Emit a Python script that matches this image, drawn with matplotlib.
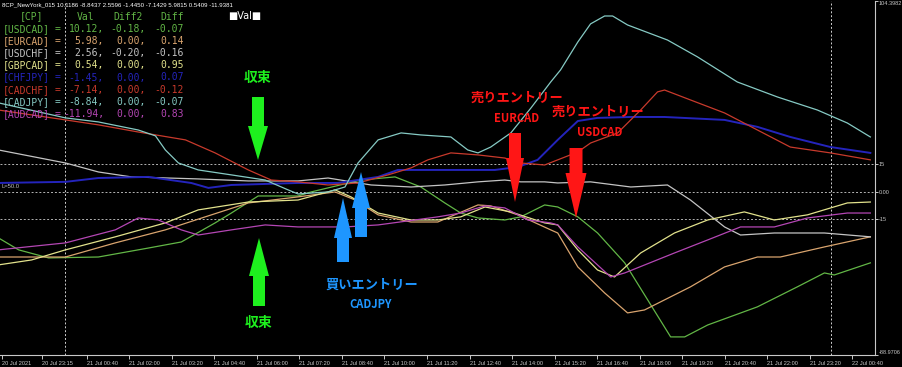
import matplotlib
matplotlib.use('Agg')
import matplotlib.pyplot as plt
import matplotlib.transforms as mtransforms
from matplotlib.patches import Polygon

# time axis: hours from 21 Jul 00:00, values of the strength index per pair
cadjpy_t = [-2.1, 0, 1.03, 2.28, 2.82, 3.13, 3.54, 4.16, 5.2, 6.26, 6.98, 7.29, 8.23, 8.76, 9.17, 9.8,
            10.52, 11.14, 12.08, 12.61, 12.93, 13.33, 13.96, 14.59, 15.21, 15.52, 16.06, 16.46, 16.9,
            17.15, 17.62, 18.87, 19.81, 21.06, 22.32, 23.57, 24.51, 25.23]
cadjpy_v = [48.6, 40.4, 38.2, 33.8, 30.6, 22.9, 15.8, 12.0, 9.3, 6.5, 1.1, -1.1, 0, 2.7, 15.8, 28.4,
            32.2, 31.1, 30.0, 22.9, 21.3, 24.5, 32.2, 45.8, 60.0, 66.6, 81.8, 91.7, 96.0,
            96.0, 91.1, 82.9, 73.7, 60.0, 51.8, 44.7, 37.6, 30.0]

cadchf_t = [-2.1, 0, 1.03, 2.28, 3.76, 4.69, 5.73, 6.45, 7.29, 8.23, 9.17, 10.11, 10.83, 11.36, 12.08,
            12.93, 13.77, 14.27, 15.02, 15.43, 16.06, 16.46, 17.31, 18.03, 18.56, 18.78, 19.59, 20.66,
            21.69, 22.72, 23.98, 25.23]
cadchf_v = [44.7, 39.3, 36.6, 32.7, 28.4, 21.3, 12.0, 6.5, 5.5, 3.8, 4.9, 9.3, 13.1, 17.5, 21.3,
            20.2, 18.5, 15.8, 14.7, 17.5, 21.8, 26.7, 32.2, 44.7, 54.6, 55.6, 50.2, 43.1,
            33.8, 24.5, 21.3, 17.5]

chfjpy_t = [-2.1, 0, 1.03, 2.6, 3.94, 4.48, 5.2, 7.29, 8.54, 9.8, 10.42, 11.89, 13.46, 14.18, 14.8,
            15.43, 16.06, 16.68, 17.72, 18.78, 20.66, 21.69, 22.72, 23.98, 25.23]
chfjpy_v = [4.9, 5.5, 7.6, 8.2, 4.9, 2.2, 3.8, 4.9, 4.9, 8.2, 12.0, 12.0, 12.0, 13.6, 17.5,
            28.4, 38.7, 40.4, 40.9, 40.9, 39.3, 35.5, 30.0, 24.5, 21.3]

usdchf_t = [-2.1, 0, 1.03, 2.07, 4.16, 5.73, 7.29, 8.23, 9.58, 10.83, 11.89, 12.93, 13.77, 14.27,
            15.02, 15.43, 16.46, 17.72, 18.87, 19.59, 20.66, 21.16, 22.22, 23.79, 25.23]
usdchf_v = [22.9, 15.8, 10.9, 8.2, 7.1, 6.0, 6.0, 7.6, 3.8, 2.7, 3.8, 5.5, 6.5, 5.5,
            5.5, 4.9, 5.5, 2.7, 3.8, -4.4, -19.1, -23.5, -22.4, -22.4, -24.5]

usdcad_t = [-2.1, -1.47, -0.53, 1.03, 2.6, 3.63, 4.69, 5.2, 6.04, 7.29, 7.7, 9.26, 10.33, 11.14,
            11.89, 12.39, 12.93, 13.77, 14.27, 15.02, 15.43, 16.06, 16.68, 17.53, 18.25, 18.97,
            19.41, 20.13, 21.69, 22.94, 23.79, 24.1, 25.23]
usdcad_v = [-25.1, -31.6, -36.0, -35.5, -30.6, -27.3, -16.9, -11.5, -2.2, -2.2, 0, 6.5, 8.2, 2.7,
            -6.0, -11.5, -14.2, -15.3, -13.6, -7.1, -8.2, -13.6, -22.4, -38.7, -58.9, -79.1,
            -79.1, -72.6, -62.7, -51.8, -44.2, -45.3, -38.7]

gbpcad_t = [-2.1, -1.06, 0, 1.56, 3.13, 4.16, 5.73, 7.29, 8.45, 8.95, 9.8, 10.83, 11.67, 12.39,
            13.15, 13.96, 15.02, 15.43, 16.06, 16.68, 17.21, 18.03, 19.09, 20.13, 21.28, 22.22,
            23.26, 24.51, 25.23]
gbpcad_v = [-39.8, -37.1, -31.6, -24.5, -16.9, -9.8, -5.5, -4.4, 1.1, -2.7, -11.5, -15.3, -15.3, -13.6,
            -8.2, -10.9, -16.9, -18.0, -31.6, -42.6, -46.4, -33.3, -22.4, -15.3, -10.9, -15.3,
            -12.5, -6.0, -5.5]

audcad_t = [-2.1, 0, 1.56, 2.28, 2.91, 3.63, 4.16, 5.2, 6.26, 7.29, 8.76, 9.8, 11.67, 12.39, 13.15,
            13.77, 14.49, 15.21, 15.43, 16.06, 17.09, 17.53, 19.09, 20.13, 21.16, 22.22, 23.26,
            24.51, 25.23]
audcad_v = [-31.6, -27.8, -20.7, -14.2, -15.3, -20.7, -23.5, -20.7, -18.0, -19.1, -19.1, -18.0, -13.6,
            -11.5, -7.6, -8.7, -15.3, -16.9, -18.0, -30.0, -46.4, -44.2, -33.3, -26.2, -19.1,
            -19.1, -14.2, -11.5, -11.5]

eurcad_t = [-2.1, 0, 1.56, 3.13, 4.38, 5.73, 7.29, 8.45, 9.08, 9.8, 10.83, 11.67, 12.93, 13.33,
            14.18, 15.21, 15.43, 16.06, 16.9, 17.62, 18.15, 19.59, 20.66, 21.69, 22.41, 23.79, 25.23]
eurcad_v = [-35.5, -35.5, -27.8, -20.7, -13.6, -6.0, -2.7, 0, -4.4, -12.5, -16.4, -16.4, -7.1, -7.6,
            -12.5, -20.7, -22.4, -40.9, -55.1, -66.0, -64.4, -51.8, -40.9, -35.5, -35.5, -30.0, -24.5]

# table in the top left corner
pairs = ['USDCAD', 'EURCAD', 'USDCHF', 'GBPCAD', 'CHFJPY', 'CADCHF', 'CADJPY', 'AUDCAD']
val_col = ['10.12,', '5.98,', '2.56,', '0.54,', '-1.45,', '-7.14,', '-8.84,', '-11.94,']
diff2_col = ['-0.18,', '0.00,', '-0.20,', '0.00,', '0.00,', '0.00,', '0.00,', '0.00,']
diff_col = ['-0.07', '0.14', '-0.16', '0.95', '0.07', '-0.12', '-0.07', '0.83']
pair_colors = ['#62b646', '#d9a46e', '#c4c4c4', '#e2e28c', '#2424bc', '#c83a2c', '#86cac4', '#b446b4']

series = {
    'USDCAD': (usdcad_t, usdcad_v),
    'EURCAD': (eurcad_t, eurcad_v),
    'USDCHF': (usdchf_t, usdchf_v),
    'GBPCAD': (gbpcad_t, gbpcad_v),
    'CHFJPY': (chfjpy_t, chfjpy_v),
    'CADCHF': (cadchf_t, cadchf_v),
    'CADJPY': (cadjpy_t, cadjpy_v),
    'AUDCAD': (audcad_t, audcad_v),
}

header_text = '8CP_NewYork_015 10.1186 -8.8437 2.5596 -1.4450 -7.1429 5.9815 0.5409 -11.9381'

tick_hours = [-2.0, -0.75, 0.667, 2.0, 3.333, 4.667, 6.0, 7.333, 8.667, 10.0, 11.333, 12.667, 14.0,
              15.333, 16.667, 18.0, 19.333, 20.667, 22.0, 23.333, 24.667]
tick_labels = ['20 Jul 2021', '20 Jul 23:15', '21 Jul 00:40', '21 Jul 02:00', '21 Jul 03:20',
               '21 Jul 04:40', '21 Jul 06:00', '21 Jul 07:20', '21 Jul 08:40', '21 Jul 10:00',
               '21 Jul 11:20', '21 Jul 12:40', '21 Jul 14:00', '21 Jul 15:20', '21 Jul 16:40',
               '21 Jul 18:00', '21 Jul 19:20', '21 Jul 20:40', '21 Jul 22:00', '21 Jul 23:20',
               '22 Jul 00:40']
day_breaks = [0, 24]
levels = [15, 0, -15]
y_max = 104.3982
y_min = -88.9706

small = 'Liberation Sans'
jp = ['Noto Sans CJK JP', 'DejaVu Sans']

fig = plt.figure(figsize=(9.03, 3.67), dpi=100, facecolor='black')
ax = fig.add_axes([0, 12 / 367, 875 / 903, 354.4 / 367])
ax.set_facecolor('black')

# pixel coordinates (top-left origin) for the overlay objects
px = mtransforms.Affine2D().scale(1 / 903, -1 / 367).translate(0, 1) + fig.transFigure

for lv in levels:
    ax.axhline(lv, color='#b4b4b4', lw=0.7, ls=(0, (2, 2)), zorder=1)
for d in day_breaks:
    ax.axvline(d, color='#d0d0d0', lw=0.7, ls=(0, (2, 2)), zorder=1)

for name, color in zip(pairs, pair_colors):
    t, v = series[name]
    lw = 1.4 if name == 'CHFJPY' else 0.9
    ax.plot(t, v, color=color, lw=lw, zorder=2)

ax.set_xlim(-65.5 / 31.9, (875 - 65.5) / 31.9)
ax.set_ylim(y_min, y_max)

for s in ['left', 'top']:
    ax.spines[s].set_visible(False)
for s in ['right', 'bottom']:
    ax.spines[s].set_color('#c8c8c8')
    ax.spines[s].set_linewidth(0.8)

ax.set_xticks(tick_hours)
ax.set_xticklabels(tick_labels, fontsize=4.1, color='#d0d0d0', family=small, ha='left')
ax.yaxis.tick_right()
ax.set_yticks([y_max, 15, 0, -15, y_min])
ylabels = ax.set_yticklabels(['104.3982', '15', '0.00', '-15', '-88.9706'], fontsize=4.0,
                             color='#d0d0d0', family=small)
ylabels[0].set_va('top')
ylabels[-1].set_va('bottom')
ax.tick_params(axis='x', colors='#c8c8c8', length=3, width=0.7, pad=1.2)
ax.tick_params(axis='y', colors='#c8c8c8', length=2, width=0.7, pad=0.4)

# table text
fig.text(2 / 903, 1 - 5 / 367, header_text, fontsize=4.4, color='white', family=small, va='center')
mono = 'DejaVu Sans Mono'
row_y0, row_dy = 16.5, 12.2
hdr_col = '#62b646'
for txt, x in [('[CP]', 20), ('Val', 77), ('Diff2', 113), ('Diff', 160)]:
    ax.text(x, row_y0, txt, transform=px, fontsize=7, family=mono, color=hdr_col, va='center')
for i, name in enumerate(pairs):
    y = row_y0 + row_dy * (i + 1)
    c = pair_colors[i]
    ax.text(3, y, '[' + name + ']', transform=px, fontsize=7, family=mono, color=c, va='center')
    ax.text(55, y, '=', transform=px, fontsize=7, family=mono, color=c, va='center')
    ax.text(104, y, val_col[i], transform=px, fontsize=7, family=mono, color=c, va='center', ha='right')
    ax.text(146, y, diff2_col[i], transform=px, fontsize=7, family=mono, color=c, va='center', ha='right')
    ax.text(184, y, diff_col[i], transform=px, fontsize=7, family=mono, color=c, va='center', ha='right')
ax.text(228, 16.5, '\u25a0Val\u25a0', transform=px, fontsize=7, color='white', va='center')
ax.text(2, 187, 'L=50.0', transform=px, fontsize=4.2, color='#c0c0c0', va='center', family=small)


def down_arrow(cx, top, head, tip, sw, hw, color):
    pts = [(cx - sw, top), (cx + sw, top), (cx + sw, head), (cx + hw, head), (cx, tip),
           (cx - hw, head), (cx - sw, head)]
    ax.add_patch(Polygon(pts, closed=True, transform=px, facecolor=color, edgecolor='none',
                         clip_on=False, zorder=5))


def up_arrow(cx, tip, head, bottom, sw, hw, color):
    pts = [(cx, tip), (cx + hw, head), (cx + sw, head), (cx + sw, bottom), (cx - sw, bottom),
           (cx - sw, head), (cx - hw, head)]
    ax.add_patch(Polygon(pts, closed=True, transform=px, facecolor=color, edgecolor='none',
                         clip_on=False, zorder=5))


green = '#1ef01e'
blue = '#1e96ff'
red = '#ff1616'

down_arrow(258, 97, 126, 160, 6, 10, green)
up_arrow(259, 238, 276, 306, 6, 10, green)
up_arrow(343, 198, 238, 262, 6, 9, blue)
up_arrow(361, 172, 208, 237, 6, 9, blue)
down_arrow(515, 133, 158, 202, 6, 9, red)
down_arrow(576, 148, 173, 218, 6.5, 10.5, red)

ax.text(258, 78, '収束', transform=px, fontsize=10, family=jp, weight='bold', color=green,
        ha='center', va='center')
ax.text(259, 323, '収束', transform=px, fontsize=10, family=jp, weight='bold', color=green,
        ha='center', va='center')
ax.text(372, 285, '買いエントリー', transform=px, fontsize=9.5, family=jp, weight='bold', color=blue,
        ha='center', va='center')
ax.text(371, 304, 'CADJPY', transform=px, fontsize=8, family=jp, weight='bold', color=blue,
        ha='center', va='center')
ax.text(517, 98, '売りエントリー', transform=px, fontsize=9.5, family=jp, weight='bold', color=red,
        ha='center', va='center')
ax.text(517, 118, 'EURCAD', transform=px, fontsize=8, family=jp, weight='bold', color=red,
        ha='center', va='center')
ax.text(598, 112, '売りエントリー', transform=px, fontsize=9.5, family=jp, weight='bold', color=red,
        ha='center', va='center')
ax.text(600, 133, 'USDCAD', transform=px, fontsize=8, family=jp, weight='bold', color=red,
        ha='center', va='center')

fig.savefig('out.png', dpi=100, facecolor='black')
